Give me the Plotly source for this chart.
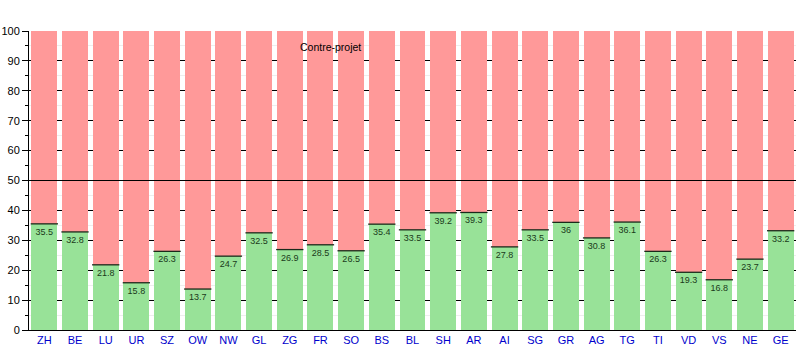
import plotly.graph_objects as go

cantons = ["ZH","BE","LU","UR","SZ","OW","NW","GL","ZG","FR","SO","BS","BL","SH","AR","AI","SG","GR","AG","TG","TI","VD","VS","NE","GE"]
oui = [35.5,32.8,21.8,15.8,26.3,13.7,24.7,32.5,26.9,28.5,26.5,35.4,33.5,39.2,39.3,27.8,33.5,36,30.8,36.1,26.3,19.3,16.8,23.7,33.2]
non = [round(100 - v, 1) for v in oui]

fig = go.Figure()
fig.add_trace(go.Bar(x=cantons, y=oui, marker=dict(color="#98e298", line=dict(width=0)),
                     text=[str(v) for v in oui], textposition="inside", insidetextanchor="end",
                     textfont=dict(size=9, color="#1a3a1a", family="Liberation Sans"),
                     textangle=0, constraintext="none", hoverinfo="skip"))
fig.add_trace(go.Bar(x=cantons, y=non, marker=dict(color="#ff9999", line=dict(width=0)), hoverinfo="skip"))
fig.add_trace(go.Scatter(x=cantons, y=oui, mode="markers",
                         marker=dict(symbol="line-ew", size=19.5, line=dict(width=1.3, color="#1a2a1a")),
                         hoverinfo="skip", cliponaxis=False))

fig.add_shape(type="line", xref="paper", x0=0, x1=1, yref="y", y0=50, y1=50,
              line=dict(color="black", width=1), layer="above")
fig.add_annotation(text="Contre-projet", xref="paper", yref="y", x=0.393, y=94.5,
                   showarrow=False, font=dict(size=10.5, color="black", family="Liberation Sans"))

fig.update_layout(
    width=801, height=350, barmode="stack", bargap=0.153, showlegend=False,
    margin=dict(l=29, r=5, t=31, b=20, autoexpand=False),
    plot_bgcolor="white", paper_bgcolor="white",
    font=dict(family="Liberation Sans", size=11, color="black"),
)
fig.update_xaxes(range=[-0.5, len(cantons) - 0.5], automargin=False,
                 showline=True, linecolor="black", linewidth=1, ticks="", showgrid=False,
                 tickfont=dict(color="#0000cc", size=11), fixedrange=True)
fig.update_yaxes(range=[0, 100], tick0=0, dtick=10, automargin=False,
                 showline=True, linecolor="black", linewidth=1,
                 ticks="outside", ticklen=6, tickcolor="black", showgrid=True, gridcolor="black",
                 gridwidth=1, zeroline=False,
                 minor=dict(dtick=5, ticks="outside", ticklen=3, tickcolor="black", showgrid=True,
                            gridcolor="#eeeeee"),
                 tickfont=dict(size=11), fixedrange=True)

fig.write_html("out.html")
